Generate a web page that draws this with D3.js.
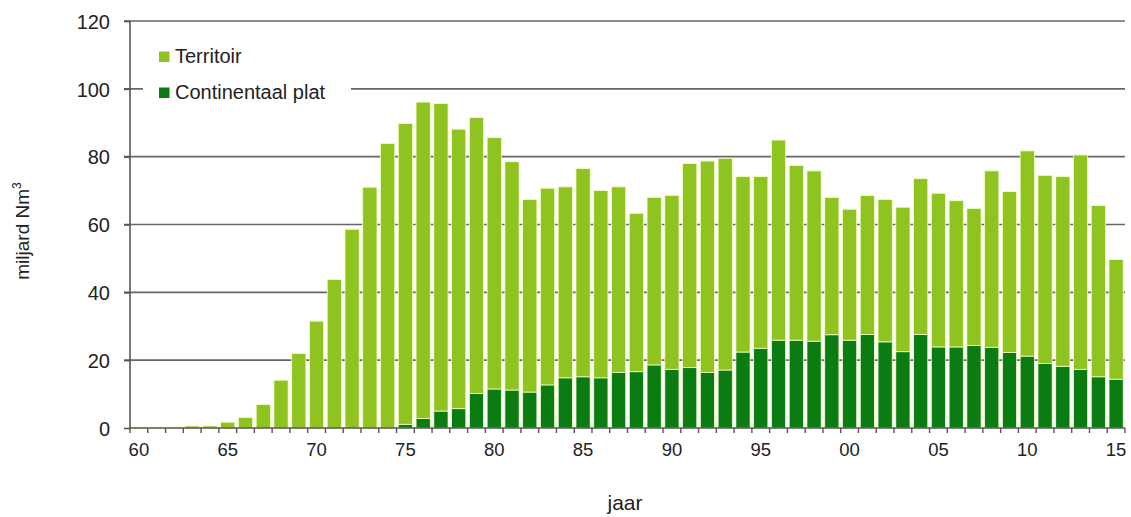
<!DOCTYPE html>
<html><head><meta charset="utf-8">
<script src="https://cdn.jsdelivr.net/npm/d3@7"></script>
<style>body{margin:0;background:#fff}svg{display:block}text{font-family:Arial,"Liberation Sans",sans-serif}</style>
</head><body><svg id="c" width="1131" height="517"></svg>
<script>
const years = d3.range(1960, 2016);
const yearLabels = years.map(y => String(y % 100).padStart(2, "0"));
const tickLabels = ["60","65","70","75","80","85","90","95","00","05","10","15"];
const yTicks = [0,20,40,60,80,100,120];
const seriesNames = ["Continentaal plat","Territoir"];
// total production (miljard Nm3)
const totals = [0.3,0.3,0.3,0.6,0.6,1.7,3.1,6.9,14.1,22.0,31.5,43.8,58.6,71.0,83.9,89.8,96.1,95.7,88.1,91.5,
  85.6,78.5,67.4,70.7,71.1,76.5,70.0,71.1,63.3,68.0,68.6,78.0,78.7,79.5,74.1,74.1,84.9,77.4,75.8,68.0,
  64.5,68.5,67.4,65.1,73.5,69.2,67.0,64.7,75.8,69.7,81.7,74.5,74.1,80.5,65.6,49.7];
// continentaal plat part
const continental = [0,0,0,0,0,0,0,0,0,0,0,0,0,0,0,1.1,2.8,5.0,5.7,10.2,
  11.5,11.2,10.6,12.7,14.8,15.1,14.8,16.4,16.6,18.6,17.3,17.8,16.4,17.1,22.4,23.5,25.9,25.9,25.6,27.5,
  25.9,27.6,25.4,22.5,27.6,23.9,23.9,24.3,23.8,22.3,21.2,19.0,18.2,17.3,15.1,14.4];
const territoir = totals.map((t,i) => +(t - continental[i]).toFixed(1));

const data = years.map((y,i) => ({label: yearLabels[i], "Continentaal plat": continental[i], "Territoir": territoir[i]}));
const stack = d3.stack().keys(seriesNames)(data);
const colors = {"Territoir":"#8fc31f","Continentaal plat":"#0a7c12"};

const svg = d3.select("#c");
const m = {l:130, r:1125, t:21, b:428};
const x = d3.scaleBand().domain(yearLabels).range([m.l, m.r]).paddingInner(0.2).paddingOuter(0.1);
const y = d3.scaleLinear().domain([0,120]).range([m.b, m.t]);

// gridlines
svg.append("g").selectAll("line").data(yTicks.filter(d=>d>0)).join("line")
  .attr("x1", m.l-6).attr("x2", m.r).attr("y1", d=>y(d)).attr("y2", d=>y(d))
  .attr("stroke","#666").attr("stroke-width",1.6);

// legend background hides part of gridline
svg.append("rect").attr("x",143).attr("y",32).attr("width",208).attr("height",80).attr("fill","#fff");

// bars
const g = svg.append("g");
stack.forEach(s => {
  g.append("g").selectAll("rect").data(s).join("rect")
    .attr("x", d=>x(d.data.label)).attr("width", x.bandwidth())
    .attr("y", d=>y(d[1])).attr("height", d=>Math.max(0, y(d[0])-y(d[1])))
    .attr("fill", colors[s.key])
    .attr("stroke","#f3ffc4").attr("stroke-width",0.8);
});

// y axis
const ya = d3.axisLeft(y).tickValues(yTicks).tickSize(6).tickFormat(d3.format("d"));
const yg = svg.append("g").attr("transform",`translate(${m.l},0)`).call(ya);
yg.select(".domain").attr("stroke","#555").attr("stroke-width",1.6).attr("d",`M0,${m.b}V${m.t}`);
yg.selectAll(".tick line").attr("stroke","#555").attr("stroke-width",1.6);
yg.selectAll("text").attr("font-size",20).attr("fill","#222").attr("x",-20).attr("dy","0.36em");

// x axis
const xa = d3.axisBottom(x).tickSize(0).tickFormat(d => tickLabels.includes(d) ? d : "");
const xg = svg.append("g").attr("transform",`translate(0,${m.b})`).call(xa);
xg.select(".domain").attr("stroke","#555").attr("stroke-width",1.6).attr("d",`M${m.l},0H${m.r}`);
xg.selectAll("text").attr("font-size",18.5).attr("fill","#222").attr("y",27.5).attr("dy",0);
// tick marks between bars
svg.append("g").selectAll("line").data(d3.range(years.length+1)).join("line")
  .attr("x1", i => m.l + i*(m.r-m.l)/years.length).attr("x2", i => m.l + i*(m.r-m.l)/years.length)
  .attr("y1", m.b).attr("y2", m.b+5).attr("stroke","#555").attr("stroke-width",1.4);

// axis titles
svg.append("text").attr("x",625).attr("y",510).attr("text-anchor","middle").attr("font-size",21).attr("fill","#222").text("jaar");
const yt = svg.append("text").attr("transform","translate(29,231) rotate(-90)").attr("text-anchor","middle")
  .attr("font-size",19).attr("fill","#222");
yt.append("tspan").text("miljard Nm");
yt.append("tspan").attr("font-size",12).attr("dy","-0.7em").text("3");

// legend
const leg = [["Territoir",56.5],["Continentaal plat",92.5]];
leg.forEach(([k,cy]) => {
  svg.append("rect").attr("x",159).attr("y",cy-5).attr("width",10.5).attr("height",10.5).attr("fill",colors[k]);
  svg.append("text").attr("x",175).attr("y",cy+6.5).attr("font-size",20).attr("fill","#222").text(k);
});
</script></body></html>
